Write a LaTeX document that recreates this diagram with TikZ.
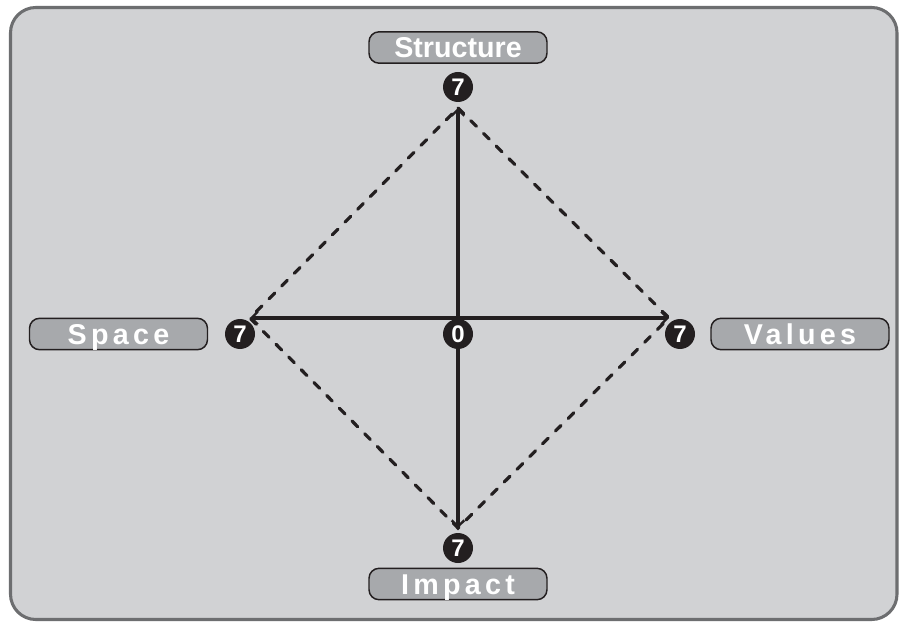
\documentclass[tikz,border=0pt]{standalone}
\usepackage{fontspec}
\setmainfont{Liberation Sans}
\usetikzlibrary{arrows.meta}
\definecolor{panel}{HTML}{D1D2D4}
\definecolor{frame}{HTML}{6D6E70}
\definecolor{boxfill}{HTML}{A7A9AC}
\definecolor{ink}{HTML}{231F20}
\tikzset{
  label box/.style={draw=ink, fill=boxfill, line width=1.1pt, rounded corners=7.5pt,
    minimum width=133.5pt, minimum height=23.5pt, inner sep=0pt,
    text=white, font=\fontsize{21.5}{21.5}\selectfont\bfseries,
    text height=15.4pt, text depth=0pt},
  num/.style={circle, fill=ink, text=white, minimum size=22.5pt, inner sep=0pt,
    font=\fontsize{18}{18}\selectfont\bfseries, text height=12.9pt, text depth=0pt},
  axis/.style={ink, line width=2.7pt, -{Straight Barb[length=4.5pt, width=9.5pt, line width=1.8pt]}},
  diag/.style={ink, line width=2.4pt, line cap=round, dash pattern=on 6pt off 7.5pt},
}
\newcommand{\spaced}[1]{{\addfontfeature{LetterSpace=15}#1}}
\begin{document}
\begin{tikzpicture}[x=0.75pt, y=-0.75pt]
  \useasboundingbox (0,0) rectangle (902,623);
  \fill[white] (0,0) rectangle (902,623);
  \draw[frame, fill=panel, line width=2.3pt, rounded corners=19pt] (10.5,7.5) rectangle (897,619.5);

  \coordinate (O) at (458,318);
  \coordinate (T) at (458,108);
  \coordinate (R) at (669,318);
  \coordinate (B) at (458,528);
  \coordinate (L) at (250,318);

  \draw[diag] (T) -- (R) -- (B) -- (L) -- cycle;
  \draw[axis] (O) -- (T);
  \draw[axis] (O) -- (R);
  \draw[axis] (O) -- (B);
  \draw[axis] (O) -- (L);

  \node[num] (n0) at (458,334) {0};
  \node[num] (nT) at (458,87) {7};
  \node[num] (nL) at (240,334) {7};
  \node[num] (nR) at (680,334) {7};
  \node[num] (nB) at (458,548) {7};

  \node[label box] (structure) at (458,47.5) {Structure};
  \node[label box] (space) at (118.5,334) {\spaced{Space}};
  \node[label box] (values) at (800,334) {\spaced{Values}};
  \node[label box] (impact) at (458,584) {\spaced{Impact}};
\end{tikzpicture}
\end{document}
